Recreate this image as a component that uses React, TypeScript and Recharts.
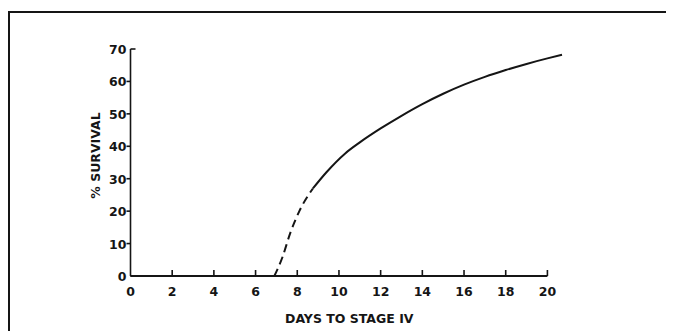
import { LineChart, Line, XAxis, YAxis, ReferenceLine, Label } from "recharts";

// days to stage IV vs % survival
const flatDays = [0, 2, 4, 6];
const flatVals = [0, 0, 0, 0];

const dashedDays = [6.9, 7.3, 7.65, 8.1, 8.75];
const dashedVals = [0, 6, 13, 20, 27];

const solidDays = [8.75, 9.4, 10.3, 11, 12, 13, 14, 15, 16, 17, 18, 19, 20, 20.7];
const solidVals = [27, 32, 37.8, 41.2, 45.5, 49.4, 53, 56.2, 59, 61.4, 63.5, 65.4, 67.1, 68.2];

const xTicks = [0, 2, 4, 6, 8, 10, 12, 14, 16, 18, 20];
const yTicks = [0, 10, 20, 30, 40, 50, 60, 70];

const flat = flatDays.map((d, i) => ({ day: d, v: flatVals[i] }));
const dashed = dashedDays.map((d, i) => ({ day: d, v: dashedVals[i] }));
const solid = solidDays.map((d, i) => ({ day: d, v: solidVals[i] }));

const ink = "#151515";
const font = "'DejaVu Sans', sans-serif";

function XTick(props: any) {
  const { x, y, payload } = props;
  return (
    <g>
      {payload.value !== 0 && <line x1={x} x2={x} y1={y} y2={y - 6} stroke={ink} strokeWidth={1.6} />}
      <text x={x} y={y + 20} textAnchor="middle" fontSize={12.5} fontWeight="bold" fill={ink} fontFamily={font}>
        {payload.value}
      </text>
    </g>
  );
}

function YTick(props: any) {
  const { x, y, payload } = props;
  const top = payload.value === 70;
  return (
    <g>
      {payload.value !== 0 && (
        <line x1={top ? x : x - 4} x2={top ? x + 5 : x} y1={y} y2={y} stroke={ink} strokeWidth={1.6} />
      )}
      <text x={x - 4} y={y + 5} textAnchor="end" fontSize={12.5} fontWeight="bold" fill={ink} fontFamily={font}>
        {payload.value}
      </text>
    </g>
  );
}

export default function App() {
  return (
    <div style={{ position: "relative", width: 666, height: 323, background: "#fff" }}>
      <div
        style={{
          position: "absolute",
          left: 0,
          top: 3,
          right: -10,
          bottom: -10,
          borderTop: `2px solid ${ink}`,
          borderLeft: `2px solid ${ink}`,
        }}
      />
      <LineChart
        width={666}
        height={323}
        margin={{ top: 41, right: 112, bottom: 0, left: 0 }}
        style={{ position: "absolute", left: 0, top: 0 }}
      >
        <XAxis
          dataKey="day"
          type="number"
          domain={[0, 20.7]}
          ticks={xTicks}
          allowDuplicatedCategory={false}
          axisLine={false}
          tickLine={false}
          tickSize={0}
          tickMargin={0}
          tick={<XTick />}
          height={55}
          interval={0}
        >
          <Label
            value="DAYS TO STAGE IV"
            position="insideBottom"
            offset={8}
            dx={3}
            fontSize={12.5}
            fontWeight="bold"
            fill={ink}
            fontFamily={font}
          />
        </XAxis>
        <YAxis
          type="number"
          domain={[0, 70]}
          ticks={yTicks}
          width={122.5}
          axisLine={{ stroke: ink, strokeWidth: 1.6 }}
          tickLine={false}
          tickSize={0}
          tickMargin={0}
          tick={<YTick />}
          interval={0}
        >
          <Label
            content={({ viewBox }: any) => {
              const cx = viewBox.x + 87;
              const cy = viewBox.y + viewBox.height / 2 - 7;
              return (
                <text
                  x={cx}
                  y={cy}
                  transform={`rotate(-90, ${cx}, ${cy})`}
                  textAnchor="middle"
                  dominantBaseline="central"
                  fontSize={12.5}
                  fontWeight="bold"
                  fill={ink}
                  fontFamily={font}
                >
                  % SURVIVAL
                </text>
              );
            }}
          />
        </YAxis>
        <ReferenceLine
          segment={[
            { x: 0, y: 0 },
            { x: 20, y: 0 },
          ]}
          stroke={ink}
          strokeWidth={1.8}
        />
        <Line data={flat} dataKey="v" type="monotone" stroke={ink} strokeWidth={2} dot={false} isAnimationActive={false} />
        <Line
          data={dashed}
          dataKey="v"
          type="monotone"
          stroke={ink}
          strokeWidth={2}
          strokeDasharray="8 5"
          dot={false}
          isAnimationActive={false}
        />
        <Line data={solid} dataKey="v" type="monotone" stroke={ink} strokeWidth={2} dot={false} isAnimationActive={false} />
      </LineChart>
    </div>
  );
}
